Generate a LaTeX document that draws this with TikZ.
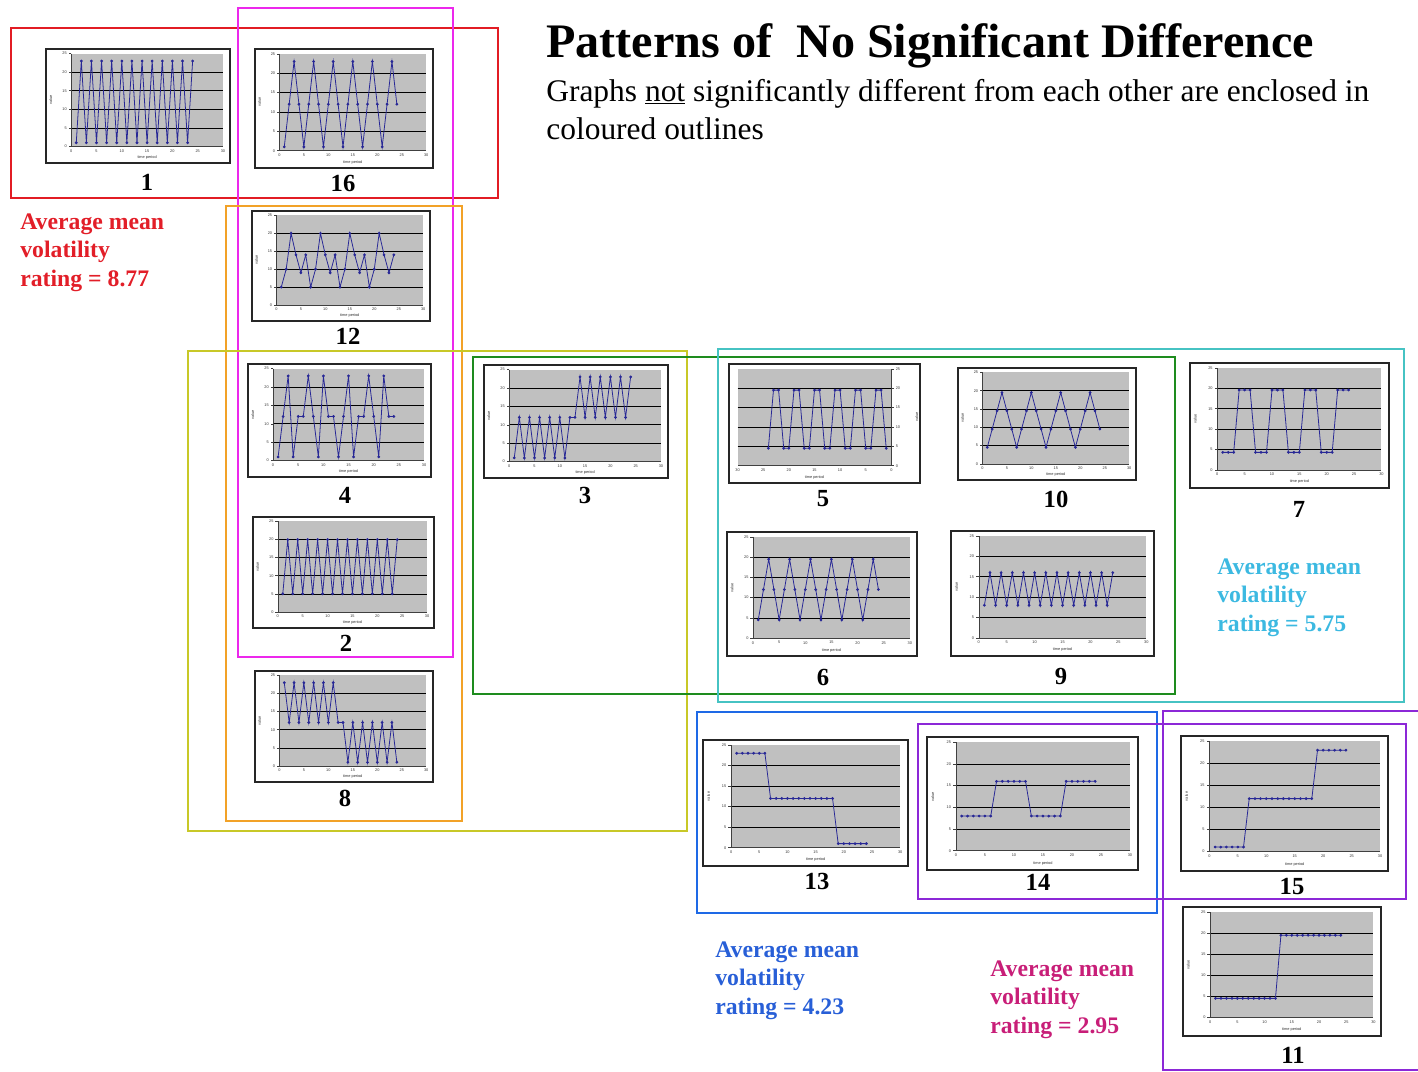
\documentclass[tikz,border=0pt]{standalone}
\usepackage{fontspec}
\setmainfont{Liberation Serif}
\setsansfont{Liberation Sans}
\usepackage{tikz}

\definecolor{plotgray}{RGB}{192,192,192}
\definecolor{lineblue}{RGB}{40,40,150}
\definecolor{boxred}{RGB}{226,28,36}
\definecolor{boxmag}{RGB}{236,40,236}
\definecolor{boxorange}{RGB}{242,162,40}
\definecolor{boxolive}{RGB}{200,200,40}
\definecolor{boxgreen}{RGB}{30,140,30}
\definecolor{boxcyan}{RGB}{70,195,195}
\definecolor{boxblue}{RGB}{30,105,230}
\definecolor{boxpurple}{RGB}{140,40,215}
\definecolor{txtred}{RGB}{226,30,40}
\definecolor{txtcyan}{RGB}{60,185,225}
\definecolor{txtblue}{RGB}{40,95,215}
\definecolor{txtpink}{RGB}{200,30,120}

\tikzset{
  chartbox/.style={draw=black!85, line width=0.8pt, fill=white},
  plotbg/.style={fill=plotgray},
  gridln/.style={black, line width=0.35pt},
  axisln/.style={black!75, line width=0.3pt},
  ticklab/.style={font=\sffamily\fontsize{2.2}{2.4}\selectfont, inner sep=0.3pt, text=black!80},
  series/.style={lineblue, line width=0.45pt, mark=*, mark size=0.55pt, mark options={fill=lineblue}},
  group/.style={line width=1.6pt},
  chartnum/.style={font=\bfseries\fontsize{14}{16}\selectfont},
  rating/.style={font=\bfseries\fontsize{13.5}{16.4}\selectfont, align=left, anchor=north west, inner sep=0pt},
}

% #1 axis on right (0/1), #2 name, #3--#6 frame, #7 first t, #8 values
\newcommand{\minichart}[8][0]{%
  \draw[chartbox] (#3,#4) rectangle (#5,#6);
  \coordinate (#2) at ({(#3+#5)/2},{(#4+#6)/2});
  \ifnum#1=1
    \pgfmathsetmacro\cL{#3+0.045*(#5-#3)}
    \pgfmathsetmacro\cR{#5-0.15*(#5-#3)}
  \else
    \pgfmathsetmacro\cL{#3+0.137*(#5-#3)}
    \pgfmathsetmacro\cR{#5-0.038*(#5-#3)}
  \fi
  \pgfmathsetmacro\cT{#4+0.04*(#6-#4)}
  \pgfmathsetmacro\cB{#6-0.145*(#6-#4)}
  \pgfmathsetmacro\ux{(\cR-\cL)*0.02/30}
  \pgfmathsetmacro\uy{(\cB-\cT)*0.02/25}
  \begin{scope}[shift={(\cL,\cB)}, x=\ux cm, y=\uy cm]
    \fill[plotbg] (0,0) rectangle (30,25);
    \foreach \g in {5,10,15,20} \draw[gridln] (0,\g) -- (30,\g);
    \ifnum#1=1
      \draw[axisln] (30,25) -- (30,0) -- (0,0);
      \foreach \g in {0,5,...,25} {
        \draw[axisln] (30,\g) -- (30.5,\g);
        \node[ticklab, anchor=west] (#2y\g) at (30.7,\g) {\g};
      }
      \foreach \g in {0,5,...,30} {
        \pgfmathtruncatemacro\r{30-\g}
        \node[ticklab, anchor=north] (#2x\g) at (\g,-0.6) {\r};
      }
      \node[ticklab, rotate=90, anchor=north] (#2v) at (34.5,12.5) {value};
    \else
      \draw[axisln] (0,25) -- (0,0) -- (30,0);
      \foreach \g in {0,5,...,25} {
        \draw[axisln] (0,\g) -- (-0.5,\g);
        \node[ticklab, anchor=east] (#2y\g) at (-0.7,\g) {\g};
      }
      \foreach \g in {0,5,...,30}
        \node[ticklab, anchor=north] (#2x\g) at (\g,-0.6) {\g};
      \node[ticklab, rotate=90, anchor=south] (#2v) at (-3.6,12.5) {value};
    \fi
    \node[ticklab, anchor=north] (#2t) at (15,-2.3) {time period};
    \def\ptlist{}
    \foreach \v [count=\i from #7] in {#8} {\xdef\ptlist{\ptlist(\i,\v)}}
    \edef\tmp{\noexpand\draw[series] plot coordinates {\ptlist};}\tmp
  \end{scope}
}

\begin{document}
\begin{tikzpicture}[x=0.02cm, y=-0.02cm]
  \useasboundingbox (0,0) rectangle (1418,1072);

  % title
  \node[anchor=base west, inner sep=0pt, font=\bfseries\fontsize{27.4}{30}\selectfont] (title) at (546,57) {Patterns of\ \ No Significant Difference};
  \node[anchor=base west, inner sep=0pt, font=\fontsize{17.9}{21}\selectfont] (sub1) at (546,101) {Graphs \underline{not} significantly different from each other are enclosed in};
  \node[anchor=base west, inner sep=0pt, font=\fontsize{17.9}{21}\selectfont] (sub2) at (546,139) {coloured outlines};

  % the charts
  \minichart{c1}{46}{49}{230}{163}{1}{1,23,1,23,1,23,1,23,1,23,1,23,1,23,1,23,1,23,1,23,1,23,1,23}
  \minichart{c16}{255}{49}{433}{168}{1}{1,12,23,12,1,12,23,12,1,12,23,12,1,12,23,12,1,12,23,12,1,12,23,12}
  \minichart{c12}{252}{211}{430}{321}{1}{5,10,20,14,9,14,5,10,20,14,9,14,5,10,20,14,9,14,5,10,20,14,9,14}
  \minichart{c4}{248}{364}{431}{477}{1}{1,12,23,1,12,12,23,12,1,23,12,12,1,12,23,1,12,12,23,12,1,23,12,12}
  \minichart{c2}{253}{517}{434}{628}{1}{5,20,5,20,5,20,5,20,5,20,5,20,5,20,5,20,5,20,5,20,5,20,5,20}
  \minichart{c8}{255}{671}{433}{782}{1}{23,12,23,12,23,12,23,12,23,12,23,12,12,1,12,1,12,1,12,1,12,1,12,1}
  \minichart{c3}{484}{365}{668}{478}{1}{1,12,1,12,1,12,1,12,1,12,1,12,12,23,12,23,12,23,12,23,12,23,12,23}
  \minichart[1]{c5}{729}{364}{920}{483}{6}{4.5,19.5,19.5,4.5,4.5,19.5,19.5,4.5,4.5,19.5,19.5,4.5,4.5,19.5,19.5,4.5,4.5,19.5,19.5,4.5,4.5,19.5,19.5,4.5}
  \minichart{c10}{958}{368}{1136}{480}{1}{4.5,9.5,14.5,19.5,14.5,9.5,4.5,9.5,14.5,19.5,14.5,9.5,4.5,9.5,14.5,19.5,14.5,9.5,4.5,9.5,14.5,19.5,14.5,9.5}
  \minichart{c7}{1190}{363}{1389}{488}{1}{4.3,4.3,4.3,19.6,19.6,19.6,4.3,4.3,4.3,19.6,19.6,19.6,4.3,4.3,4.3,19.6,19.6,19.6,4.3,4.3,4.3,19.6,19.6,19.6}
  \minichart{c6}{727}{532}{917}{656}{1}{4.5,12,19.5,12,4.5,12,19.5,12,4.5,12,19.5,12,4.5,12,19.5,12,4.5,12,19.5,12,4.5,12,19.5,12}
  \minichart{c9}{951}{531}{1154}{656}{1}{8,16,8,16,8,16,8,16,8,16,8,16,8,16,8,16,8,16,8,16,8,16,8,16}
  \minichart{c13}{703}{740}{908}{866}{1}{23,23,23,23,23,23,12,12,12,12,12,12,12,12,12,12,12,12,1,1,1,1,1,1}
  \minichart{c14}{927}{737}{1138}{870}{1}{8,8,8,8,8,8,16,16,16,16,16,16,8,8,8,8,8,8,16,16,16,16,16,16}
  \minichart{c15}{1181}{736}{1388}{871}{1}{1,1,1,1,1,1,12,12,12,12,12,12,12,12,12,12,12,12,23,23,23,23,23,23}
  \minichart{c11}{1183}{907}{1381}{1036}{1}{4.5,4.5,4.5,4.5,4.5,4.5,4.5,4.5,4.5,4.5,4.5,4.5,19.5,19.5,19.5,19.5,19.5,19.5,19.5,19.5,19.5,19.5,19.5,19.5}

  % chart numbers
  \node[chartnum] (n1) at (147,182) {1};
  \node[chartnum] (n16) at (343,183) {16};
  \node[chartnum] (n12) at (348,336) {12};
  \node[chartnum] (n4) at (345,495) {4};
  \node[chartnum] (n2) at (346,643) {2};
  \node[chartnum] (n8) at (345,798) {8};
  \node[chartnum] (n3) at (585,495) {3};
  \node[chartnum] (n5) at (823,499) {5};
  \node[chartnum] (n10) at (1056,499) {10};
  \node[chartnum] (n7) at (1299,509) {7};
  \node[chartnum] (n6) at (823,677) {6};
  \node[chartnum] (n9) at (1061,676) {9};
  \node[chartnum] (n13) at (817,881) {13};
  \node[chartnum] (n14) at (1038,882) {14};
  \node[chartnum] (n15) at (1292,886) {15};
  \node[chartnum] (n11) at (1293,1055) {11};

  % coloured outlines
  \draw[group, boxred] (11,28) rectangle (498,198);
  \draw[group, boxmag] (238,8) rectangle (453,657);
  \draw[group, boxorange] (226,206) rectangle (462,821);
  \draw[group, boxolive] (188,351) rectangle (687,831);
  \draw[group, boxgreen] (473,357) rectangle (1175,694);
  \draw[group, boxcyan] (718,349) rectangle (1404,702);
  \draw[group, boxblue] (697,712) rectangle (1157,913);
  \draw[group, boxpurple] (918,724) rectangle (1406,899);
  \draw[group, boxpurple] (1163,711) rectangle (1430,1070);

  % ratings
  \node[rating, text=txtred] (redrate) at (20,213) {Average mean\\volatility\\rating = 8.77};
  \node[rating, text=txtcyan] (cyanrate) at (1217,558) {Average mean\\volatility\\rating = 5.75};
  \node[rating, text=txtblue] (bluerate) at (715,941) {Average mean\\volatility\\rating = 4.23};
  \node[rating, text=txtpink] (pinkrate) at (990,960) {Average mean\\volatility\\rating = 2.95};
\end{tikzpicture}
\end{document}
